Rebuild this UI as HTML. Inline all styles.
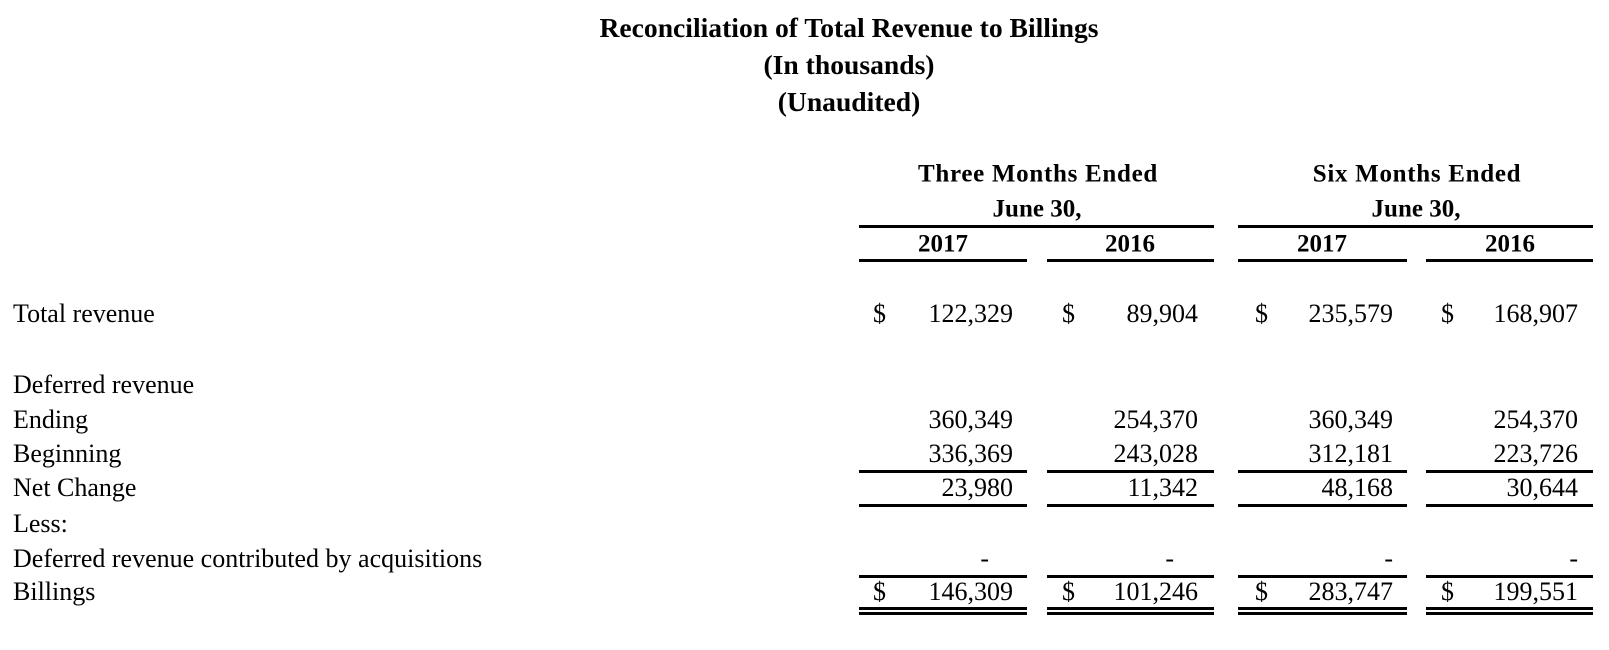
<!DOCTYPE html>
<html><head><meta charset="utf-8"><style>
body{margin:0;width:1609px;height:650px;background:#fff;position:relative;font-family:"Liberation Serif",serif;color:#000;overflow:hidden}
.t{position:absolute;white-space:nowrap;font-size:26px;line-height:1;transform:translateY(-50%)}
.b{font-weight:bold}
.c{transform:translate(-50%,-50%)}
.r{transform:translate(-100%,-50%)}
.l{position:absolute;height:3px;background:#000}
</style></head><body>
<div class="t b c" style="left:849px;top:28px;font-size:27.6px">Reconciliation of Total Revenue to Billings</div>
<div class="t b c" style="left:849px;top:65px;font-size:27.6px">(In thousands)</div>
<div class="t b c" style="left:849px;top:102px;font-size:27.6px">(Unaudited)</div>

<div class="t b c" style="left:1038px;top:174px;font-size:25px;letter-spacing:0.7px">Three Months Ended</div>
<div class="t b c" style="left:1037px;top:209px;font-size:25px">June 30,</div>
<div class="t b c" style="left:1417px;top:174px;font-size:25px;letter-spacing:0.7px">Six Months Ended</div>
<div class="t b c" style="left:1416px;top:209px;font-size:25px">June 30,</div>
<div class="l" style="left:859px;width:355px;top:225px"></div>
<div class="l" style="left:1238px;width:355px;top:225px"></div>
<div class="t b c" style="left:943px;top:244px;font-size:25px">2017</div>
<div class="t b c" style="left:1130px;top:244px;font-size:25px">2016</div>
<div class="t b c" style="left:1322px;top:244px;font-size:25px">2017</div>
<div class="t b c" style="left:1510px;top:244px;font-size:25px">2016</div>
<div class="l" style="left:859px;width:168px;top:259px"></div>
<div class="l" style="left:1047px;width:167px;top:259px"></div>
<div class="l" style="left:1238px;width:169px;top:259px"></div>
<div class="l" style="left:1426px;width:167px;top:259px"></div>

<div class="t" style="left:13px;top:314px">Total revenue</div>
<div class="t" style="left:13px;top:385px">Deferred revenue</div>
<div class="t" style="left:13px;top:420px">Ending</div>
<div class="t" style="left:13px;top:454px">Beginning</div>
<div class="t" style="left:13px;top:488px">Net Change</div>
<div class="t" style="left:13px;top:524px">Less:</div>
<div class="t" style="left:13px;top:559px">Deferred revenue contributed by acquisitions</div>
<div class="t" style="left:13px;top:592px">Billings</div>

<div class="t" style="left:873px;top:314px">$</div>
<div class="t" style="left:1062px;top:314px">$</div>
<div class="t" style="left:1255px;top:314px">$</div>
<div class="t" style="left:1441px;top:314px">$</div>
<div class="t r" style="left:1013px;top:314px">122,329</div>
<div class="t r" style="left:1198px;top:314px">89,904</div>
<div class="t r" style="left:1393px;top:314px">235,579</div>
<div class="t r" style="left:1578px;top:314px">168,907</div>

<div class="t r" style="left:1013px;top:420px">360,349</div>
<div class="t r" style="left:1198px;top:420px">254,370</div>
<div class="t r" style="left:1393px;top:420px">360,349</div>
<div class="t r" style="left:1578px;top:420px">254,370</div>

<div class="t r" style="left:1013px;top:454px">336,369</div>
<div class="t r" style="left:1198px;top:454px">243,028</div>
<div class="t r" style="left:1393px;top:454px">312,181</div>
<div class="t r" style="left:1578px;top:454px">223,726</div>

<div class="l" style="left:859px;width:168px;top:470px"></div>
<div class="l" style="left:1047px;width:167px;top:470px"></div>
<div class="l" style="left:1238px;width:169px;top:470px"></div>
<div class="l" style="left:1426px;width:167px;top:470px"></div>

<div class="t r" style="left:1013px;top:488px">23,980</div>
<div class="t r" style="left:1198px;top:488px">11,342</div>
<div class="t r" style="left:1393px;top:488px">48,168</div>
<div class="t r" style="left:1578px;top:488px">30,644</div>

<div class="l" style="left:859px;width:168px;top:504px"></div>
<div class="l" style="left:1047px;width:167px;top:504px"></div>
<div class="l" style="left:1238px;width:169px;top:504px"></div>
<div class="l" style="left:1426px;width:167px;top:504px"></div>

<div class="t r" style="left:989px;top:559px">-</div>
<div class="t r" style="left:1174px;top:559px">-</div>
<div class="t r" style="left:1393px;top:559px">-</div>
<div class="t r" style="left:1578px;top:559px">-</div>

<div class="l" style="left:859px;width:168px;top:575px"></div>
<div class="l" style="left:1047px;width:167px;top:575px"></div>
<div class="l" style="left:1238px;width:169px;top:575px"></div>
<div class="l" style="left:1426px;width:167px;top:575px"></div>

<div class="t" style="left:873px;top:592px">$</div>
<div class="t" style="left:1062px;top:592px">$</div>
<div class="t" style="left:1255px;top:592px">$</div>
<div class="t" style="left:1441px;top:592px">$</div>
<div class="t r" style="left:1013px;top:592px">146,309</div>
<div class="t r" style="left:1198px;top:592px">101,246</div>
<div class="t r" style="left:1393px;top:592px">283,747</div>
<div class="t r" style="left:1578px;top:592px">199,551</div>

<div class="l" style="left:859px;width:168px;top:607px"></div>
<div class="l" style="left:1047px;width:167px;top:607px"></div>
<div class="l" style="left:1238px;width:169px;top:607px"></div>
<div class="l" style="left:1426px;width:167px;top:607px"></div>
<div class="l" style="left:859px;width:168px;top:612px"></div>
<div class="l" style="left:1047px;width:167px;top:612px"></div>
<div class="l" style="left:1238px;width:169px;top:612px"></div>
<div class="l" style="left:1426px;width:167px;top:612px"></div>
</body></html>
